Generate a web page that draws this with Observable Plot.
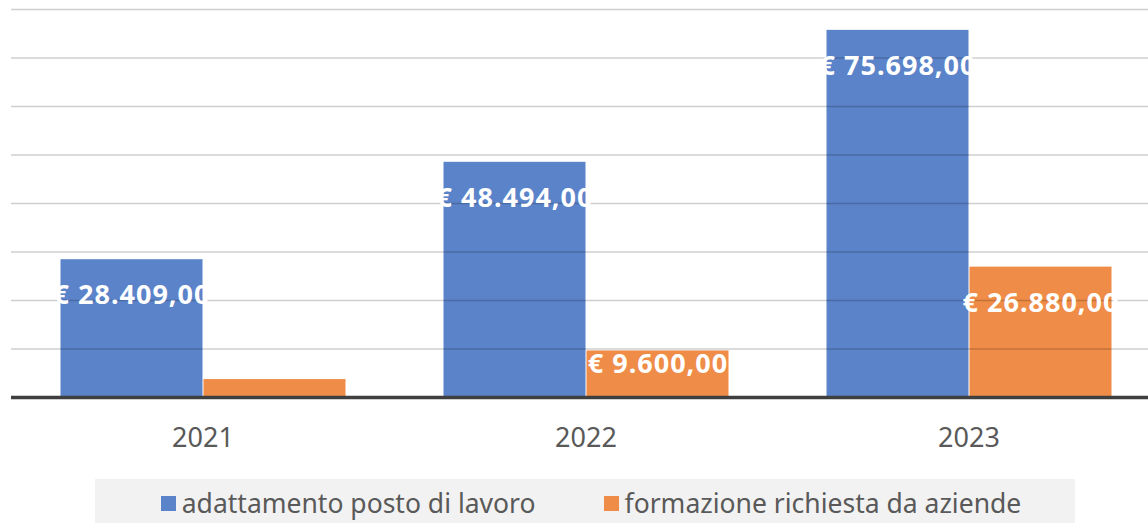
<!DOCTYPE html>
<html>
<head>
<meta charset="utf-8">
<script src="https://cdn.jsdelivr.net/npm/d3@7"></script>
<script src="https://cdn.jsdelivr.net/npm/@observablehq/plot@0.6"></script>
<style>
  html, body { margin: 0; padding: 0; background: #fff; }
  #chart { width: 1148px; overflow: hidden; }
  #chart g[aria-label="text"] text { letter-spacing: 1px; }
  .legend {
    box-sizing: border-box; padding-left: 12px;
    margin: 9px 0 0 95px; width: 980px; height: 48px; background: #f2f2f2;
    display: flex; justify-content: center; align-items: center; gap: 68px;
    font-family: "Noto Sans", sans-serif; font-size: 26.5px; color: #595959;
  }
  .legend .item { display: flex; align-items: center; gap: 6px; }
  .legend .sw { width: 15px; height: 15px; display: inline-block; }
</style>
</head>
<body>
<div id="chart"></div>
<script>
const years = ["2021", "2022", "2023"];
const series = ["adattamento posto di lavoro", "formazione richiesta da aziende"];
const adattamento = [28409, 48494, 75698];
const formazione = [3700, 9600, 26880];
const adattamentoLabelled = [true, true, true];
const formazioneLabelled = [false, true, true];
const gridTicks = [10000, 20000, 30000, 40000, 50000, 60000, 70000, 80000];
const colors = ["#5b83c9", "#ef8c47"];

const rows = [];
years.forEach((y, i) => {
  rows.push({year: y, series: series[0], value: adattamento[i], label: adattamentoLabelled[i]});
  rows.push({year: y, series: series[1], value: formazione[i], label: formazioneLabelled[i]});
});

const it = d3.formatLocale({decimal: ",", thousands: ".", grouping: [3], currency: ["€ ", ""]});
const fmt = it.format("$,.2f");

const labelled = rows.filter(d => d.label);
const big = labelled.filter(d => d.value > 15000);
const small = labelled.filter(d => d.value <= 15000);

const plot = Plot.plot({
  width: 1148,
  height: 470,
  marginTop: 9,
  marginBottom: 73,
  marginLeft: 0,
  marginRight: 0,
  style: {fontFamily: "'Noto Sans', sans-serif", fontSize: "27px", color: "#595959", background: "#fff"},
  fx: {domain: years, range: [-36.75, 1208], paddingInner: 0.25, paddingOuter: 0.25, axis: "bottom", tickSize: 0, tickPadding: 30, label: null},
  x: {domain: series, padding: 0, axis: null},
  y: {domain: [0, 80000], axis: null},
  color: {domain: series, range: colors},
  marks: [
    Plot.barY(rows, {fx: "year", x: "series", y: "value", fill: "series", insetLeft: 0.5, insetRight: 0.5}),
    Plot.ruleY(gridTicks, {stroke: "#000", strokeOpacity: 0.19, strokeWidth: 1.5, insetLeft: -48, insetRight: -48}),
    Plot.ruleY([0], {stroke: "#3f3f3f", strokeWidth: 3.5, insetLeft: -48, insetRight: -48}),
    Plot.text(big, {fx: "year", x: "series", y: "value", text: d => fmt(d.value), fill: "white", fontSize: 27, fontWeight: "bold", dy: 36}),
    Plot.text(small, {fx: "year", x: "series", y: "value", text: d => fmt(d.value), fill: "white", fontSize: 27, fontWeight: "bold", dy: 13})
  ]
});
document.getElementById("chart").appendChild(plot);

const legend = document.createElement("div");
legend.className = "legend";
series.forEach((s, i) => {
  const item = document.createElement("span");
  item.className = "item";
  const sw = document.createElement("span");
  sw.className = "sw";
  sw.style.background = colors[i];
  const t = document.createElement("span");
  t.textContent = s;
  item.appendChild(sw);
  item.appendChild(t);
  legend.appendChild(item);
});
document.body.appendChild(legend);
</script>
</body>
</html>
